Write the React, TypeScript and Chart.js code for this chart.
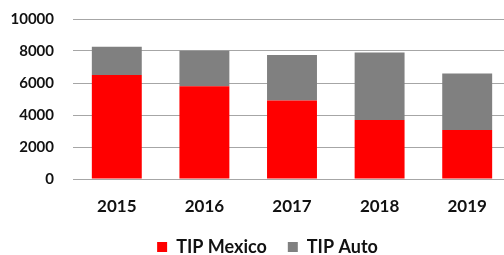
import React, { useEffect, useRef } from "react";
import { Chart, registerables } from "chart.js";

Chart.register(...registerables);

const categories = ["2015", "2016", "2017", "2018", "2019"];
const tipMexico = [6500, 5790, 4900, 3690, 3060];
const tipAuto = [1770, 2230, 2850, 4210, 3540];
const yTickValues = [0, 2000, 4000, 6000, 8000, 10000];

const FONT = "Lato, 'Open Sans', 'Liberation Sans', sans-serif";

const LEGEND_DX = 12;
const LEGEND_DY = 2;

const legendShift = {
  id: "legendShift",
  afterLayout(chart: any) {
    const lg = chart.legend;
    if (!lg) return;
    lg.left += LEGEND_DX;
    lg.right += LEGEND_DX;
    lg.top += LEGEND_DY;
    lg.bottom += LEGEND_DY;
  },
};

export default function App() {
  const ref = useRef<HTMLCanvasElement>(null);

  useEffect(() => {
    if (!ref.current) return;
    const chart = new Chart(ref.current, {
      type: "bar",
      data: {
        labels: categories,
        datasets: [
          {
            label: "TIP Mexico",
            data: tipMexico,
            backgroundColor: "#ff0000",
            barPercentage: 0.57,
            categoryPercentage: 1,
          },
          {
            label: "TIP Auto",
            data: tipAuto,
            backgroundColor: "#808080",
            barPercentage: 0.57,
            categoryPercentage: 1,
          },
        ],
      },
      plugins: [legendShift],
      options: {
        responsive: false,
        animation: false,
        devicePixelRatio: 1,
        layout: { padding: { left: 0, top: 19, right: 0, bottom: -9 } },
        scales: {
          x: {
            stacked: true,
            grid: { display: false },
            border: { display: false },
            ticks: {
              color: "#111",
              padding: 9,
              font: { family: FONT, size: 17, weight: "bold" },
            },
            afterFit: (s: any) => {
              s.height = 36;
            },
          },
          y: {
            stacked: true,
            min: 0,
            max: 10000,
            afterBuildTicks: (s: any) => {
              s.ticks = yTickValues.map((v) => ({ value: v }));
            },
            grid: { color: "#a6a6a6", lineWidth: 1, drawTicks: false },
            border: { display: false },
            ticks: {
              color: "#111",
              padding: 19,
              font: { family: FONT, size: 15, weight: "bold" },
              callback: (v: any) => String(v),
            },
            afterFit: (s: any) => {
              s.width = 73;
              s.paddingTop = 0;
              s.paddingBottom = 0;
            },
          },
        },
        plugins: {
          legend: {
            position: "bottom",
            labels: {
              boxWidth: 10,
              boxHeight: 10,
              padding: 21,
              color: "#111",
              font: { family: FONT, size: 18, weight: "bold" },
            },
          },
          tooltip: { enabled: false },
        },
      },
    });
    return () => chart.destroy();
  }, []);

  return (
    <div
      style={{
        position: "absolute",
        left: 0,
        top: 0,
        width: 504,
        height: 255,
        overflow: "hidden",
        background: "#fff",
      }}
    >
      <canvas ref={ref} width={511} height={255} style={{ display: "block" }} />
    </div>
  );
}
